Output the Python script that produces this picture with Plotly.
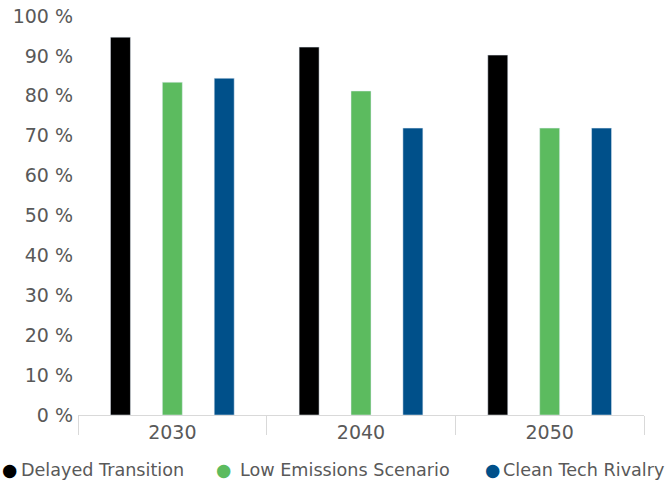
import plotly.graph_objects as go

categories = ["2030", "2040", "2050"]
series_names = ["Delayed Transition", "Low Emissions Scenario", "Clean Tech Rivalry"]
delayed = [94.7, 92.2, 90.2]
low_emissions = [83.4, 81.2, 71.9]
clean_tech = [84.4, 71.9, 71.9]
colors = ["#000000", "#5CBB5F", "#00508A"]
y_ticks = list(range(0, 101, 10))
y_tick_labels = [f"{v} %" for v in y_ticks]

W, H = 667, 486
ML, MR, MT, MB = 78, 23, 16, 71
PW, PH = W - ML - MR, H - MT - MB

fig = go.Figure()
for name, vals, col in zip(series_names, [delayed, low_emissions, clean_tech], colors):
    fig.add_trace(go.Bar(x=categories, y=vals, name=name, marker_color=col,
                         showlegend=False))

# legend drawn as text entries (circle glyph + name)
legend_dot_px = [9, 223, 492]
legend_text_px = [19, 238, 501]
legend_py = 470
ly = (H - MB - legend_py) / PH
for name, col, dpx, tpx in zip(series_names, colors, legend_dot_px, legend_text_px):
    fig.add_annotation(
        xref="paper", yref="paper", x=(dpx - ML) / PW, y=ly,
        xanchor="center", yanchor="middle", showarrow=False,
        text="●", font=dict(family="DejaVu Sans", size=17.6, color=col),
    )
    fig.add_annotation(
        xref="paper", yref="paper", x=(tpx - ML) / PW, y=ly,
        xanchor="left", yanchor="middle", showarrow=False,
        text=name, font=dict(family="DejaVu Sans", size=17.6, color="#595959"),
    )

fig.update_layout(
    width=W, height=H,
    margin=dict(l=ML, r=MR, t=MT, b=MB, autoexpand=False),
    paper_bgcolor="white", plot_bgcolor="white",
    barmode="group", bargap=0.175, bargroupgap=0.615,
    font=dict(family="DejaVu Sans", color="#595959", size=18),
    showlegend=False,
    xaxis=dict(showline=True, linecolor="#D9D9D9", linewidth=1,
               ticks="outside", tickson="boundaries", ticklen=19,
               tickcolor="#D9D9D9", showgrid=False,
               tickfont=dict(size=19, color="#595959")),
    yaxis=dict(range=[0, 100], tickvals=y_ticks, ticktext=y_tick_labels,
               showgrid=False, zeroline=False, showline=False,
               tickfont=dict(size=19, color="#595959"), ticklabelstandoff=4),
)
fig.write_html("out.html", config={"displayModeBar": False},
               post_script="document.body.style.margin='0';")
